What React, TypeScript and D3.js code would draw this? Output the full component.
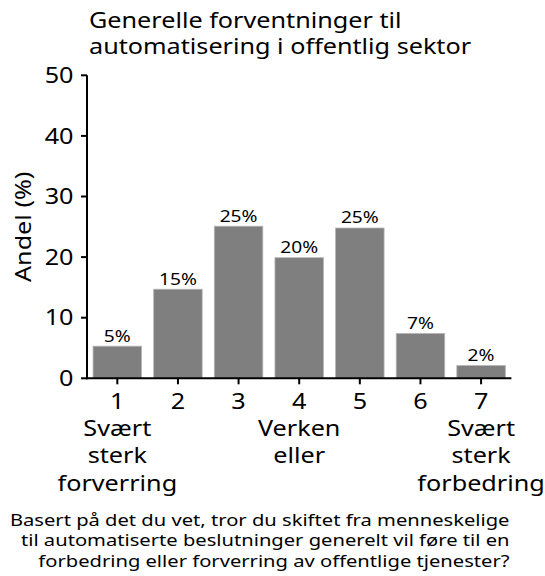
import { useEffect, useRef } from 'react';
import * as d3 from 'd3';

const categories = ['1', '2', '3', '4', '5', '6', '7'];
const shares = [5.3, 14.7, 25.1, 19.9, 24.8, 7.4, 2.1];
const anchorLabels = [['Svært', 'sterk', 'forverring'], [], [], ['Verken', 'eller'], [], [], ['Svært', 'sterk', 'forbedring']];
const yTicks = [0, 10, 20, 30, 40, 50];
const titleLines = ['Generelle forventninger til', 'automatisering i offentlig sektor'];
const questionLines = [
  'Basert på det du vet, tror du skiftet fra menneskelige',
  'til automatiserte beslutninger generelt vil føre til en',
  'forbedring eller forverring av offentlige tjenester?',
];

const FONT = "'Noto Sans', 'Open Sans', sans-serif";
// the reference text is drawn a bit wider than Noto Sans at the same height
const SX = 1.2;

type Sel = d3.Selection<any, unknown, null, undefined>;

// text anchored at (x, y), lines stacked with lineH, stretched horizontally
const addText = (
  parent: Sel,
  x: number,
  y: number,
  lines: string[],
  size: number,
  anchor: string,
  lineH = 0,
  rotate = 0
) => {
  const t = parent
    .append('text')
    .attr('transform', `translate(${x},${y}) rotate(${rotate}) scale(${SX},1)`)
    .attr('text-anchor', anchor)
    .attr('font-size', size)
    .attr('fill', '#000');
  lines.forEach((line, i) => {
    t.append('tspan')
      .attr('x', 0)
      .attr('dy', i === 0 ? 0 : lineH)
      .text(line);
  });
  return t;
};

const App = () => {
  const svgRef = useRef<SVGSVGElement>(null);

  useEffect(() => {
    const svg = d3.select(svgRef.current).attr('width', 545).attr('height', 576) as Sel;
    svg.selectAll('*').remove();
    svg.style('font-family', FONT);

    const left = 87;
    const right = 511.4;
    const top = 75.3;
    const bottom = 378.3;

    const x = d3.scaleBand().domain(categories).range([left, right]).paddingInner(0.2).paddingOuter(0.1);
    const y = d3.scaleLinear().domain([0, 50]).range([bottom, top]);

    // title
    addText(svg, 89, 28, titleLines, 21, 'start', 26);

    // bars
    svg
      .selectAll('.bar')
      .data(shares)
      .enter()
      .append('rect')
      .attr('class', 'bar')
      .attr('x', (d, i) => x(categories[i])!)
      .attr('y', (d) => y(d))
      .attr('width', x.bandwidth())
      .attr('height', (d) => bottom - y(d))
      .attr('fill', '#7f7f7f')
      .attr('stroke', '#b5b5b5')
      .attr('stroke-width', 0.8);

    // bar labels
    shares.forEach((d, i) => {
      addText(svg, x(categories[i])! + x.bandwidth() / 2, y(d) - 4.6, [`${Math.round(d)}%`], 16, 'middle');
    });

    // y axis
    const yAxis = svg.append('g');
    yAxis
      .append('line')
      .attr('x1', left)
      .attr('x2', left)
      .attr('y1', top)
      .attr('y2', bottom + 1)
      .attr('stroke', '#000')
      .attr('stroke-width', 2);
    yTicks.forEach((t) => {
      yAxis
        .append('line')
        .attr('x1', left - 6)
        .attr('x2', left)
        .attr('y1', y(t))
        .attr('y2', y(t))
        .attr('stroke', '#000')
        .attr('stroke-width', 2);
      addText(yAxis, 73.5, y(t) + 7.6, [String(t)], 21, 'end');
    });

    addText(svg, 31, (top + bottom) / 2, ['Andel (%)'], 21, 'middle', 0, -90);

    // x axis
    const xAxis = svg.append('g');
    xAxis
      .append('line')
      .attr('x1', left - 1)
      .attr('x2', right)
      .attr('y1', bottom)
      .attr('y2', bottom)
      .attr('stroke', '#000')
      .attr('stroke-width', 2);
    categories.forEach((c, i) => {
      const cx = x(c)! + x.bandwidth() / 2;
      xAxis
        .append('line')
        .attr('x1', cx)
        .attr('x2', cx)
        .attr('y1', bottom)
        .attr('y2', bottom + 6)
        .attr('stroke', '#000')
        .attr('stroke-width', 2);
      addText(xAxis, cx, 408.5, [c, ...anchorLabels[i]], 21, 'middle', 27.5);
    });

    // question text
    addText(svg, 509.5, 526, questionLines, 16.8, 'end', 20.5);
  }, []);

  return <svg ref={svgRef} style={{ display: 'block', position: 'absolute', left: 0, top: 0 }}></svg>;
};

export default App;
